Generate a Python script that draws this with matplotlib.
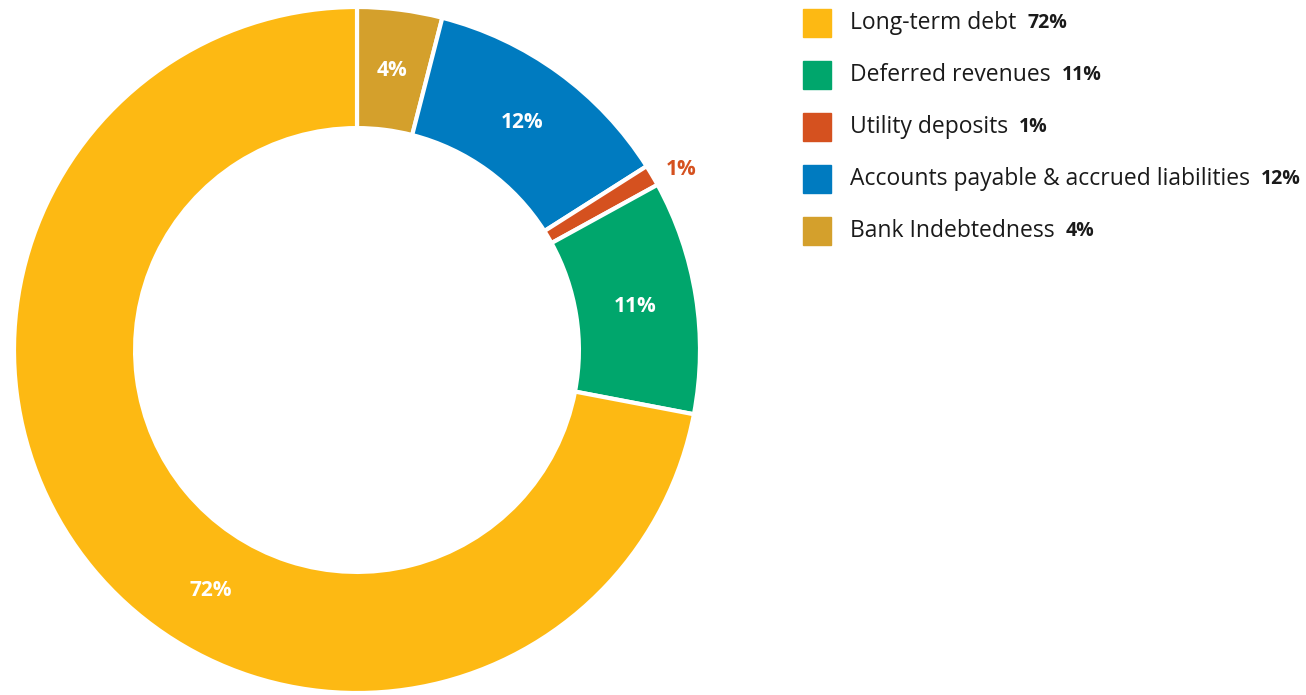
import numpy as np
import matplotlib.pyplot as plt
from matplotlib.patches import Rectangle

plt.rcParams['font.family'] = ['Open Sans', 'DejaVu Sans']

# slices, clockwise from 12 o'clock
names = ['Bank Indebtedness', 'Accounts payable & accrued liabilities',
         'Utility deposits', 'Deferred revenues', 'Long-term debt']
shares = [4, 12, 1, 11, 72]
colors = ['#D4A02C', '#007BC0', '#D5511F', '#00A66C', '#FDB913']

# legend order, top to bottom
legend_order = [4, 3, 2, 1, 0]

W, H = 1306, 695
fig = plt.figure(figsize=(W / 100, H / 100), dpi=100)

# donut centre (357, 350) px, outer radius 343 px
cx, cy, R = 357, 350, 343
ax = fig.add_axes([(cx - R) / W, (H - cy - R) / H, 2 * R / W, 2 * R / H])
wedges, _ = ax.pie(shares, colors=colors, startangle=90, counterclock=False,
                   wedgeprops=dict(width=0.353, edgecolor='white', linewidth=3))
ax.set_xlim(-1, 1)
ax.set_ylim(-1, 1)
ax.set_aspect('equal')
ax.axis('off')

# percentage labels
for w, v in zip(wedges, shares):
    mid = np.deg2rad((w.theta1 + w.theta2) / 2)
    if v < 3:
        r, col = 1.08, w.get_facecolor()
        mid -= np.deg2rad(1.5)
    else:
        r, col = 0.82, 'white'
    if v > 50:
        mid += np.deg2rad(19)
    ax.text(r * np.cos(mid), r * np.sin(mid), f'{v}%', ha='center', va='center',
            fontsize=15, fontweight='bold', color=col)

# legend
fig.canvas.draw()
renderer = fig.canvas.get_renderer()
for row, i in enumerate(legend_order):
    yc = 23 + row * 52
    fig.patches.append(Rectangle((803 / W, 1 - (yc + 14) / H), 28 / W, 28 / H,
                                 transform=fig.transFigure, color=colors[i]))
    t = fig.text(850 / W, 1 - yc / H, names[i], ha='left', va='center',
                 fontsize=16.5, color='#1a1a1a')
    bb = t.get_window_extent(renderer)
    fig.text((bb.x1 + 11) / W, 1 - yc / H, f'{shares[i]}%', ha='left', va='center',
             fontsize=14, fontweight='bold', color='#1a1a1a')

fig.savefig('out.png', dpi=100)
